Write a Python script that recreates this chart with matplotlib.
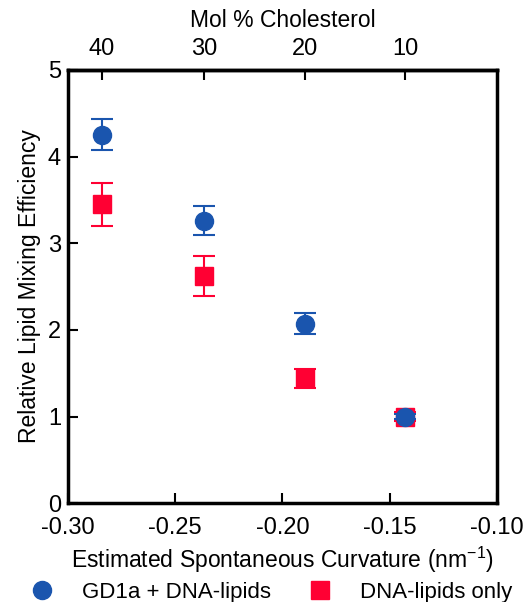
import matplotlib
matplotlib.use("Agg")
import matplotlib.pyplot as plt
from matplotlib.lines import Line2D

plt.rcParams['font.family'] = ['Liberation Sans', 'DejaVu Sans']
plt.rcParams['mathtext.fontset'] = 'custom'
plt.rcParams['mathtext.rm'] = 'Liberation Sans'

curvature = [-0.2841, -0.2366, -0.1895, -0.1429]
chol_labels = ["40", "30", "20", "10"]
gd1a_mean = [4.25, 3.26, 2.07, 1.00]
gd1a_err = [0.18, 0.17, 0.12, 0.03]
dna_mean = [3.45, 2.62, 1.44, 1.00]
dna_err = [0.25, 0.23, 0.11, 0.05]

blue = "#1A55AE"
red = "#FF0033"

fig = plt.figure(figsize=(5.30, 6.02), dpi=100)
ax = fig.add_axes([0.128, 0.164, 0.81, 0.72])

ax.errorbar(curvature, dna_mean, yerr=dna_err, fmt='s', color=red, ecolor=red,
            markersize=13, capsize=8, elinewidth=1.5, capthick=1.5, zorder=2)
ax.errorbar(curvature, gd1a_mean, yerr=gd1a_err, fmt='o', color=blue, ecolor=blue,
            markersize=13, capsize=8, elinewidth=1.5, capthick=1.5, zorder=3)

ax.set_xlim(-0.30, -0.10)
ax.set_ylim(0, 5)
ax.set_xticks([-0.30, -0.25, -0.20, -0.15, -0.10])
ax.set_xticklabels(["-0.30", "-0.25", "-0.20", "-0.15", "-0.10"])
ax.set_yticks([0, 1, 2, 3, 4, 5])
for s in ax.spines.values():
    s.set_linewidth(2.5)
ax.tick_params(direction='in', length=7, width=1.5, labelsize=17, right=False)
ax.tick_params(axis='x', pad=10)
ax.tick_params(axis='y', pad=5)
ax.set_xlabel("Estimated Spontaneous Curvature (nm$^{\\mathregular{-1}}$)", fontsize=16.5, labelpad=4)
ax.set_ylabel("Relative Lipid Mixing Efficiency", fontsize=16.5, labelpad=5)

top = ax.secondary_xaxis('top')
top.set_xticks(curvature)
top.set_xticklabels(chol_labels)
top.tick_params(direction='in', length=7, width=1.5, labelsize=17, pad=7)
top.set_xlabel("Mol % Cholesterol", fontsize=16.5, labelpad=8)
top.spines['top'].set_linewidth(2.5)

handles = [Line2D([], [], marker='o', color=blue, linestyle='none', markersize=13),
           Line2D([], [], marker='s', color=red, linestyle='none', markersize=13)]
fig.legend(handles, ["GD1a + DNA-lipids", "DNA-lipids only"], loc='lower center',
           bbox_to_anchor=(0.51, -0.035), ncol=2, frameon=False, fontsize=16,
           columnspacing=1.6, handletextpad=1.2, handlelength=1.2)

fig.savefig("out.png", dpi=100)
